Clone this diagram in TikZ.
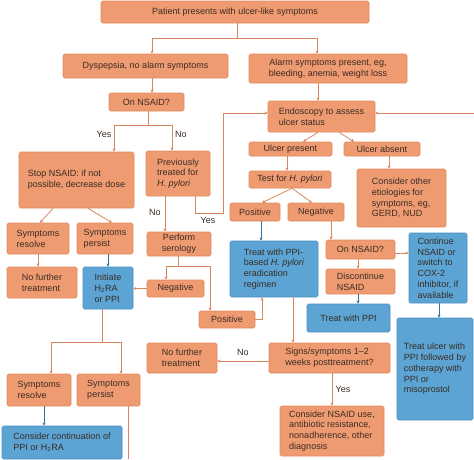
\documentclass[tikz,border=0pt]{standalone}
\usepackage{fontspec}
\setmainfont{Liberation Sans}
\usetikzlibrary{arrows.meta}
\definecolor{ofill}{HTML}{EF9B72}
\definecolor{obord}{HTML}{E0895E}
\definecolor{bfill}{HTML}{5BA4D4}
\definecolor{bbord}{HTML}{4A90C2}
\definecolor{olinec}{HTML}{D9875E}
\definecolor{blinec}{HTML}{2E76A3}
\definecolor{txtc}{HTML}{3A2B22}
\newcommand{\fs}{\fontsize{9}{10.8}\selectfont}
\tikzset{
  obox/.style={draw=obord, fill=ofill, rounded corners=1.5pt, inner sep=0pt, text=txtc, font=\fs, align=left, line width=0.6pt},
  bbox/.style={obox, draw=bbord, fill=bfill},
  sz/.style 2 args={minimum width=#1pt, minimum height=#2pt},
  oarr/.style={draw=olinec, line width=0.8pt, -{Stealth[length=3.2pt,width=3.2pt]}},
  barr/.style={draw=blinec, line width=0.8pt, -{Stealth[length=3.2pt,width=3.2pt]}},
  oln/.style={draw=olinec, line width=0.8pt},
  lbl/.style={font=\fs, text=txtc, inner sep=0pt}
}
\begin{document}
\begin{tikzpicture}[x=1pt, y=-1pt]
\useasboundingbox (0,0) rectangle (474,459);
% nodes
\node[obox, sz={268}{22}, align=center] (patient) at (235,12) {Patient presents with ulcer-like symptoms};
\node[obox, sz={165}{24}, align=center] (dysp) at (145.5,66) {Dyspepsia, no alarm symptoms};
\node[obox, sz={158}{29}, align=center] (alarm) at (328,68.5) {Alarm symptoms present, eg,\\bleeding, anemia, weight loss};
\node[obox, sz={75}{18}, align=center] (ons1) at (146.5,102) {On NSAID?};
\node[obox, sz={115}{56}] (stop) at (76.5,180) {Stop NSAID: if not\\possible, decrease dose};
\node[obox, sz={64}{45}] (prev) at (178,173.5) {Previously\\treated for\\\textit{H. pylori}};
\node[obox, sz={62}{31}] (sr1) at (38,238.5) {Symptoms\\resolve};
\node[obox, sz={56}{31}] (sp1) at (105,238.5) {Symptoms\\persist};
\node[obox, sz={70}{31}] (nft1) at (42,282.5) {No further\\treatment};
\node[bbox, sz={50}{42}] (init) at (108,288) {Initiate\\H\textsubscript{2}RA\\or PPI};
\node[obox, sz={64}{24}, align=center] (sero) at (179,244) {Perform\\serology};
\node[obox, sz={57}{17}, align=center] (neg1) at (175.5,288.5) {Negative};
\node[obox, sz={56}{17}, align=center] (pos1) at (227,319.5) {Positive};
\node[bbox, sz={88}{56}] (hpreg) at (274,269) {Treat with PPI-\\based \textit{H. pylori}\\eradication\\regimen};
\node[obox, sz={107}{31}] (endo) at (321.5,116.5) {Endoscopy to assess\\ulcer status};
\node[obox, sz={83}{14}, align=center] (up) at (290.5,149) {Ulcer present};
\node[obox, sz={76}{14}, align=center] (ua) at (382,149) {Ulcer absent};
\node[obox, sz={82}{17}, align=center] (test) at (290,179.5) {Test for \textit{H. pylori}};
\node[obox, sz={50}{18}, align=center] (pos2) at (255,212) {Positive};
\node[obox, sz={56}{18}, align=center] (neg2) at (316,212) {Negative};
\node[obox, sz={89}{58}] (other) at (401.5,198) {Consider other\\etiologies for\\symptoms, eg,\\GERD, NUD};
\node[obox, sz={69}{19}, align=center] (ons2) at (360.5,249.5) {On NSAID?};
\node[obox, sz={69}{25}] (disc) at (360.5,281.5) {Discontinue\\NSAID};
\node[bbox, sz={83}{28}, align=center] (tppi) at (348.5,318) {Treat with PPI};
\node[bbox, sz={58}{70}] (cont) at (438,268) {Continue\\NSAID or\\switch to\\COX-2\\inhibitor, if\\available};
\node[bbox, sz={76}{102}] (tulcer) at (435,369) {Treat ulcer with\\PPI followed by\\cotherapy with\\PPI or\\misoprostol};
\node[obox, sz={121}{30}] (signs) at (329.5,358) {Signs/symptoms 1--2\\weeks posttreatment?};
\node[obox, sz={70}{30}] (nft2) at (182,358) {No further\\treatment};
\node[obox, sz={104}{50}] (cnsaid) at (332,431) {Consider NSAID use,\\antibiotic resistance,\\nonadherence, other\\diagnosis};
\node[obox, sz={64}{32}] (sr2) at (39,390) {Symptoms\\resolve};
\node[obox, sz={63}{32}] (sp2) at (108.5,390) {Symptoms\\persist};
\node[bbox, sz={120}{33}] (ccont) at (62,442.5) {Consider continuation of\\PPI or H\textsubscript{2}RA};
% labels
\node[lbl] (yes1) at (104,134) {Yes};
\node[lbl] (no1) at (181,134) {No};
\node[lbl] (no2) at (155,212) {No};
\node[lbl] (yes2) at (208,220) {Yes};
\node[lbl] (no3) at (243,352) {No};
\node[lbl] (yes3) at (343,389) {Yes};
% connectors
\coordinate (f1) at (237,38);
\draw[oln] (237,0 |- patient.south) -- (f1);
\draw[oarr] (f1) -| (152,0 |- dysp.north);
\draw[oarr] (f1) -| (317,0 |- alarm.north);
\draw[oarr] (152,0 |- dysp.south) -- (152,0 |- ons1.north);
\coordinate (f2) at (148,125);
\draw[oln] (148,0 |- ons1.south) -- (f2);
\draw[oarr] (f2) -| (114,0 |- stop.north);
\draw[oarr] (f2) -| (172,0 |- prev.north);
\draw[oarr] (53,0 |- stop.south) -- (40,0 |- sr1.north);
\draw[oarr] (88,0 |- stop.south) -- (112,0 |- sp1.north);
\draw[oarr] (38,0 |- sr1.south) -- (38,0 |- nft1.north);
\draw[barr] (108,0 |- sp1.south) -- (108,0 |- init.north);
\draw[oarr] (165,0 |- prev.south) -- (165,0 |- sero.north);
\draw[oarr] (195,0 |- prev.south) |- (223,213) |- (endo.west |- 0,113);
\coordinate (f3) at (178,266);
\draw[oln] (178,0 |- sero.south) -- (f3);
\draw[oarr] (f3) -| (166,0 |- neg1.north);
\draw[oarr] (f3) -| (210,0 |- pos1.north);
\draw[oarr] (neg1.west) -- (init.east |- neg1.west);
\draw[oarr] (pos1.east) -| (262,0 |- hpreg.south);
\draw[oarr] (318,0 |- alarm.south) -- (318,0 |- endo.north);
\coordinate (re) at (474,113);
\draw[oarr] (re) -- (endo.east |- re);
\draw[oarr] (318,0 |- endo.south) -- (303,0 |- up.north);
\draw[oarr] (339,0 |- endo.south) -- (354,0 |- ua.north);
\draw[oarr] (287,0 |- up.south) -- (287,0 |- test.north);
\draw[oarr] (389,0 |- ua.south) -- (389,0 |- other.north);
\draw[oarr] (292,0 |- test.south) -- (262,0 |- pos2.north);
\draw[oarr] (292,0 |- test.south) -- (312,0 |- neg2.north);
\draw[barr] (261,0 |- pos2.south) -- (261,0 |- hpreg.north);
\draw[oarr] (331,0 |- neg2.south) -- (331,0 |- ons2.north);
\draw[oarr] (ons2.east |- 0,253) -- (cont.west |- 0,253);
\draw[oarr] (358,0 |- ons2.south) -- (358,0 |- disc.north);
\draw[barr] (358,0 |- disc.south) -- (358,0 |- tppi.north);
\draw[barr] (439,0 |- cont.south) -- (439,0 |- tulcer.north);
\draw[oarr] (293,0 |- hpreg.south) -- (293,0 |- signs.north);
\draw[oarr] (signs.west |- 0,361) -- (nft2.east |- 0,361);
\draw[oarr] (332,0 |- signs.south) -- (332,0 |- cnsaid.north);
\coordinate (f4) at (102,342);
\draw[oln] (102,0 |- init.south) -- (f4);
\draw[oarr] (f4) -| (51,0 |- sr2.north);
\draw[oarr] (f4) -| (121,0 |- sp2.north);
\draw[barr] (44,0 |- sr2.south) -- (44,0 |- ccont.north);
\coordinate (be) at (128,459);
\draw[oln] (128,0 |- sp2.south) -- (be);
\end{tikzpicture}
\end{document}
